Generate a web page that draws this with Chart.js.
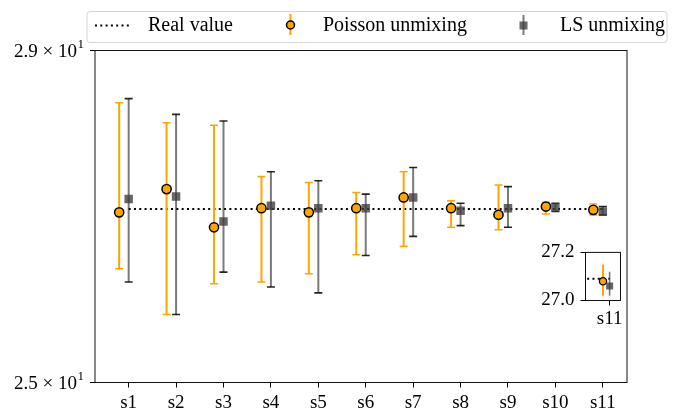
<!DOCTYPE html>
<html><head><meta charset="utf-8">
<script src="https://cdn.jsdelivr.net/npm/chart.js@4.4.1/dist/chart.umd.min.js"></script>
<style>
html,body{margin:0;padding:0;background:#fff;}
#wrap{position:relative;width:673px;height:410px;background:#fff;}
#main{position:absolute;left:0;top:0;}
#inset{position:absolute;left:500px;top:235px;}
</style></head><body>
<div id="wrap"><canvas id="main" width="673" height="410"></canvas><canvas id="inset" width="140" height="100"></canvas></div>
<script>
// ---- data ----
const categories = ['s1','s2','s3','s4','s5','s6','s7','s8','s9','s10','s11'];
const realValues = [27.09,27.09,27.09,27.09,27.09,27.09,27.09,27.09,27.09,27.09,27.09];
const poissonMean = [27.05,27.33,26.87,27.10,27.05,27.10,27.23,27.10,27.02,27.12,27.08];
const poissonLow  = [26.37,25.82,26.19,26.21,26.31,26.54,26.64,26.87,26.84,27.03,27.02];
const poissonHigh = [28.37,28.13,28.10,27.48,27.41,27.29,27.54,27.19,27.38,27.17,27.15];
const lsMean = [27.21,27.24,26.94,27.13,27.10,27.10,27.23,27.07,27.10,27.11,27.06];
const lsLow  = [26.21,25.82,26.33,26.15,26.08,26.53,26.76,26.89,26.87,27.06,27.02];
const lsHigh = [28.42,28.23,28.15,27.54,27.43,27.27,27.59,27.16,27.36,27.16,27.12];
const yTickValues = [25, 29];
const yTickMantissa = ['2.5 × 10', '2.9 × 10'];
const yTickExponent = ['1', '1'];
const insetTickValues = [27.0, 27.2];
const insetTickLabels = ['27.0', '27.2'];
const insetCategory = 10;
const legendLabels = ['Real value', 'Poisson unmixing', 'LS unmixing'];

// ---- styles ----
const FONT = '"Liberation Serif", "Times New Roman", serif';
const ORANGE = '#FFA500';
const LS_FILL = 'rgba(60,60,60,0.78)';
const LS_BAR = 'rgba(0,0,0,0.52)';
const LS_CAP = 'rgba(0,0,0,0.85)';
const POISSON_SHIFT = -0.2;
Chart.defaults.font.family = FONT;
Chart.defaults.color = '#000';

const errorBarPlugin = {
  id: 'errbars',
  beforeDatasetDraw(chart, args) {
    const ds = chart.data.datasets[args.index];
    if (!ds.errLow) return;
    const xs = chart.scales.x, ys = chart.scales.y;
    const ctx = chart.ctx, a = chart.chartArea;
    ctx.save();
    ctx.beginPath(); ctx.rect(a.left, a.top, a.right - a.left, a.bottom - a.top); ctx.clip();
    ds.data.forEach((p, i) => {
      const x = xs.getPixelForValue(p.x);
      const yl = ys.getPixelForValue(ds.errLow[i]);
      const yh = ys.getPixelForValue(ds.errHigh[i]);
      ctx.strokeStyle = ds.errColor; ctx.lineWidth = ds.errWidth; ctx.lineCap = 'butt';
      ctx.beginPath(); ctx.moveTo(x, yl); ctx.lineTo(x, yh); ctx.stroke();
      if (ds.capSize) {
        ctx.strokeStyle = ds.capColor; ctx.lineWidth = ds.capWidth;
        ctx.beginPath();
        ctx.moveTo(x - ds.capSize, yl); ctx.lineTo(x + ds.capSize, yl);
        ctx.moveTo(x - ds.capSize, yh); ctx.lineTo(x + ds.capSize, yh);
        ctx.stroke();
      }
    });
    ctx.restore();
  }
};

const framePlugin = {
  id: 'frame',
  afterDatasetsDraw(chart) {
    const ctx = chart.ctx, a = chart.chartArea;
    ctx.save();
    ctx.strokeStyle = '#111'; ctx.lineWidth = 1;
    ctx.strokeRect(a.left, a.top, a.right - a.left, a.bottom - a.top);
    ctx.restore();
  }
};

const bgPlugin = {
  id: 'bg',
  beforeDraw(chart) {
    const ctx = chart.ctx, a = chart.chartArea;
    ctx.save(); ctx.fillStyle = '#fff';
    if (chart.canvas.id === 'main') ctx.fillRect(0, 0, chart.width, chart.height);
    else ctx.fillRect(a.left, a.top, a.right - a.left, a.bottom - a.top);
    ctx.restore();
  }
};

// y tick labels with a real raised exponent (scientific notation)
const sciTickPlugin = {
  id: 'sciTicks',
  afterDraw(chart) {
    if (chart.canvas.id !== 'main') return;
    const ctx = chart.ctx, ys = chart.scales.y;
    ctx.save();
    ctx.fillStyle = '#000'; ctx.textBaseline = 'middle';
    yTickValues.forEach((v, i) => {
      const y = ys.getPixelForValue(v);
      const right = 84;
      ctx.font = '13px ' + FONT; ctx.textAlign = 'right';
      const ew = ctx.measureText(yTickExponent[i]).width;
      ctx.fillText(yTickExponent[i], right, y - 6);
      ctx.font = '19px ' + FONT;
      ctx.fillText(yTickMantissa[i], right - ew - 0.5, y + 1.5);
    });
    ctx.restore();
  }
};

const legendPlugin = {
  id: 'customLegend',
  afterDraw(chart) {
    if (chart.canvas.id !== 'main') return;
    const ctx = chart.ctx;
    ctx.save();
    const bx = 87, by = 11.5, bw = 580, bh = 31, r = 3;
    ctx.beginPath();
    ctx.moveTo(bx + r, by); ctx.lineTo(bx + bw - r, by); ctx.arcTo(bx + bw, by, bx + bw, by + r, r);
    ctx.lineTo(bx + bw, by + bh - r); ctx.arcTo(bx + bw, by + bh, bx + bw - r, by + bh, r);
    ctx.lineTo(bx + r, by + bh); ctx.arcTo(bx, by + bh, bx, by + bh - r, r);
    ctx.lineTo(bx, by + r); ctx.arcTo(bx, by, bx + r, by, r); ctx.closePath();
    ctx.fillStyle = 'rgba(255,255,255,0.9)'; ctx.fill();
    ctx.strokeStyle = '#d6d6d6'; ctx.lineWidth = 1; ctx.stroke();
    ctx.strokeStyle = '#000'; ctx.lineWidth = 2; ctx.setLineDash([2, 3.3]);
    ctx.beginPath(); ctx.moveTo(95, 25.5); ctx.lineTo(130, 25.5); ctx.stroke();
    ctx.setLineDash([]);
    ctx.strokeStyle = ORANGE; ctx.lineWidth = 2;
    ctx.beginPath(); ctx.moveTo(290.5, 14); ctx.lineTo(290.5, 35); ctx.stroke();
    ctx.beginPath(); ctx.arc(290.5, 25, 4, 0, Math.PI * 2);
    ctx.fillStyle = ORANGE; ctx.fill(); ctx.strokeStyle = '#000'; ctx.lineWidth = 1.5; ctx.stroke();
    ctx.strokeStyle = LS_BAR; ctx.lineWidth = 2;
    ctx.beginPath(); ctx.moveTo(523.5, 15); ctx.lineTo(523.5, 35); ctx.stroke();
    ctx.fillStyle = LS_FILL; ctx.fillRect(519.5, 21.5, 8, 8);
    ctx.fillStyle = '#000'; ctx.font = '20px ' + FONT; ctx.textBaseline = 'alphabetic'; ctx.textAlign = 'left';
    ctx.fillText(legendLabels[0], 148, 31);
    ctx.fillText(legendLabels[1], 323, 31);
    ctx.fillText(legendLabels[2], 560, 31);
    ctx.restore();
  }
};

function makeDatasets(inset) {
  return [
    {
      label: legendLabels[0],
      data: categories.map((c, i) => ({ x: i, y: realValues[i] })),
      showLine: true, borderColor: '#000', borderWidth: 2, borderDash: [2, 3.3],
      pointRadius: 0, order: 3, fill: false
    },
    {
      label: legendLabels[1],
      data: categories.map((c, i) => ({ x: i + POISSON_SHIFT, y: poissonMean[i] })),
      errLow: poissonLow, errHigh: poissonHigh,
      errColor: ORANGE, errWidth: 2, capColor: ORANGE, capWidth: 1.6, capSize: inset ? 0 : 4,
      pointStyle: 'circle', pointRadius: inset ? 3.6 : 4.6, pointBorderWidth: inset ? 1.3 : 1.5,
      pointBackgroundColor: ORANGE, pointBorderColor: '#000', showLine: false, order: 2
    },
    {
      label: legendLabels[2],
      data: categories.map((c, i) => ({ x: i, y: lsMean[i] })),
      errLow: lsLow, errHigh: lsHigh,
      errColor: LS_BAR, errWidth: inset ? 1.6 : 2, capColor: LS_CAP, capWidth: 1.6, capSize: inset ? 0 : 4,
      pointStyle: 'rect', pointRadius: inset ? 5 : 6, pointBorderWidth: 0,
      pointBackgroundColor: LS_FILL, pointBorderColor: LS_FILL, showLine: false, order: 1
    }
  ];
}

const commonOpts = {
  responsive: false, animation: false, events: [],
  plugins: { legend: { display: false }, tooltip: { enabled: false } }
};

new Chart(document.getElementById('main'), {
  type: 'scatter',
  data: { datasets: makeDatasets(false) },
  options: Object.assign({}, commonOpts, {
    layout: { padding: { top: 50.5, right: 46, left: 0, bottom: 0 } },
    scales: {
      x: {
        type: 'linear', min: -0.71, max: 10.51,
        afterBuildTicks: s => { s.ticks = categories.map((c, i) => ({ value: i })); },
        afterFit: s => { s.height = 27.5; },
        ticks: { callback: v => categories[v], font: { size: 19 }, padding: 4, maxRotation: 0, autoSkip: false },
        grid: { display: true, drawOnChartArea: false, drawTicks: true, tickLength: 5, color: '#000', lineWidth: 1 },
        border: { display: false }
      },
      y: {
        type: 'linear', min: 25, max: 29,
        afterBuildTicks: s => { s.ticks = yTickValues.map(v => ({ value: v })); },
        afterFit: s => { s.width = 95; },
        ticks: { callback: () => '', font: { size: 19 }, padding: 6 },
        grid: { display: true, drawOnChartArea: false, drawTicks: true, tickLength: 5, color: '#000', lineWidth: 1 },
        border: { display: false }
      }
    }
  }),
  plugins: [bgPlugin, errorBarPlugin, framePlugin, sciTickPlugin, legendPlugin]
});

new Chart(document.getElementById('inset'), {
  type: 'scatter',
  data: { datasets: makeDatasets(true) },
  options: Object.assign({}, commonOpts, {
    layout: { padding: { top: 14.5, right: 19.5, left: 0, bottom: 0 } },
    scales: {
      x: {
        type: 'linear', min: 9.27, max: 10.33,
        afterBuildTicks: s => { s.ticks = [{ value: insetCategory }]; },
        afterFit: s => { s.height = 34.5; },
        ticks: { callback: v => categories[v], font: { size: 19 }, padding: 2, maxRotation: 0, autoSkip: false },
        grid: { display: true, drawOnChartArea: false, drawTicks: true, tickLength: 5, color: '#000', lineWidth: 1 },
        border: { display: false }
      },
      y: {
        type: 'linear', min: 27.0, max: 27.2,
        afterBuildTicks: s => { s.ticks = insetTickValues.map(v => ({ value: v })); },
        afterFit: s => { s.width = 85.5; },
        ticks: { callback: v => insetTickLabels[insetTickValues.findIndex(t => Math.abs(t - v) < 1e-9)], font: { size: 19 }, padding: 6 },
        grid: { display: true, drawOnChartArea: false, drawTicks: true, tickLength: 5, color: '#000', lineWidth: 1 },
        border: { display: false }
      }
    }
  }),
  plugins: [bgPlugin, errorBarPlugin, framePlugin]
});
</script>
</body></html>
